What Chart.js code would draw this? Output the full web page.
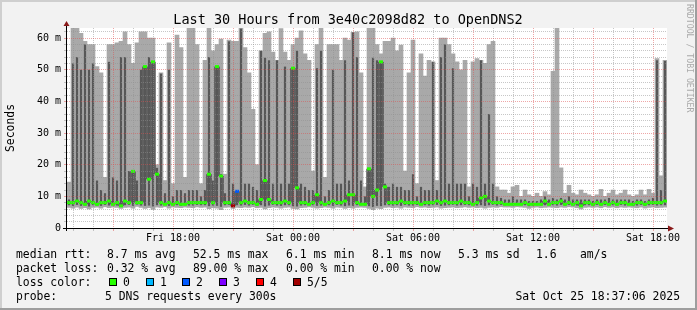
<!DOCTYPE html>
<html lang="en">
  <head>
    <meta charset="UTF-8" />
    <title>Last 30 Hours from 3e40c2098d82 to OpenDNS2</title>
    <script src="https://cdn.jsdelivr.net/npm/chart.js@4.4.0/dist/chart.umd.min.js"></script>
    <style>
      html, body { margin: 0; padding: 0; background: #f2f2f2; }
      #wrap { width: 697px; height: 310px; }
    </style>
  </head>
  <body>
    <div id="wrap"><canvas id="chart" width="697" height="310"></canvas></div>
    <script>
      // time axis, in hours from Fri 00:00
      const startHour = 12.7; // Fri 12:42, left edge of the plot
      const endHour = 42.7;   // Sat 18:42
      const stepHours = 0.2;  // one column = 12 minutes

      // smoke bands (ms): lowest ping, 2nd ping, 4th ping, highest ping, median
      const lo = [
        6.5, 6.3, 6.6, 6.2, 6.4, 6.0, 6.5, 6.6, 6.3, 6.7,
        6.4, 6.6, 6.5, 6.2, 6.5, 6.6, 6.3, 6.8, 6.5, 6.2,
        6.4, 5.9, 6.6, 6.5, 6.7, 6.3, 6.6, 6.5, 6.4, 6.6,
        6.5, 6.4, 6.7, 6.5, 6.6, 6.1, 6.4, 6.3, 5.8, 6.5,
        6.6, 6.2, 6.5, 6.4, 6.6, 6.5, 6.7, 6.4, 6.5, 6.0,
        6.4, 6.6, 6.5, 6.3, 6.5, 6.6, 6.2, 6.0, 6.4, 6.5,
        6.7, 6.5, 6.3, 6.4, 6.6, 6.5, 6.3, 6.6, 6.5, 6.2,
        6.4, 6.3, 6.5, 6.6, 6.5, 6.2, 5.8, 6.3, 6.1, 6.5,
        6.6, 6.4, 6.5, 6.3, 6.6, 6.5, 6.4, 6.7, 6.5, 6.6,
        6.4, 6.5, 6.6, 6.3, 6.4, 6.5, 6.6, 6.4, 6.5, 6.7,
        6.5, 6.6, 6.4, 6.5, 6.3, 6.5, 6.6, 6.5, 6.7, 6.6,
        6.6, 6.5, 6.7, 6.6, 6.5, 6.2, 6.5, 6.6, 6.4, 6.5,
        6.6, 6.5, 6.4, 6.6, 6.5, 6.7, 6.6, 6.4, 6.0, 6.5,
        6.6, 6.5, 6.6, 6.4, 6.7, 6.5, 6.6, 6.4, 6.6, 6.5,
        6.6, 6.5, 6.4, 6.6, 6.3, 6.5, 6.6, 6.4, 6.5, 6.6
      ];
      const q1 = [
        7.2, 7.0, 7.3, 7.0, 7.1, 6.8, 7.2, 7.1, 7.0, 7.3,
        7.1, 7.2, 7.1, 6.9, 7.2, 7.3, 7.0, 7.4, 7.1, 7.0,
        7.1, 6.8, 7.2, 7.1, 7.3, 7.0, 7.2, 7.2, 7.0, 7.2,
        7.1, 7.1, 7.3, 7.2, 7.2, 6.9, 7.1, 7.0, 6.7, 7.2,
        7.3, 6.9, 7.2, 7.1, 7.3, 7.1, 7.3, 7.0, 7.2, 6.8,
        7.1, 7.3, 7.1, 7.0, 7.2, 7.2, 6.9, 6.8, 7.1, 7.2,
        7.3, 7.2, 7.0, 7.1, 7.2, 7.2, 7.0, 7.3, 7.1, 6.9,
        7.1, 7.0, 7.2, 7.2, 7.1, 6.9, 6.6, 7.0, 6.9, 7.2,
        7.2, 7.1, 7.2, 7.0, 7.3, 7.1, 7.1, 7.3, 7.2, 7.2,
        7.1, 7.2, 7.3, 7.0, 7.1, 7.2, 7.3, 7.1, 7.2, 7.3,
        7.2, 7.2, 7.1, 7.2, 7.0, 7.2, 7.3, 7.1, 7.3, 7.2,
        7.2, 7.2, 7.3, 7.2, 7.2, 6.9, 7.1, 7.2, 7.1, 7.2,
        7.2, 7.2, 7.1, 7.3, 7.1, 7.3, 7.2, 7.1, 6.8, 7.2,
        7.2, 7.1, 7.3, 7.1, 7.3, 7.2, 7.2, 7.1, 7.3, 7.1,
        7.3, 7.1, 7.1, 7.3, 7.0, 7.2, 7.3, 7.1, 7.2, 7.2
      ];
      const dk = [
        9, 52, 54, 50, 58, 50, 52, 15, 12, 11,
        52.5, 16, 15, 54, 54, 18, 18, 15, 50, 50.6,
        54, 52.5, 19, 48.8, 11, 50, 10, 12, 12, 11,
        12, 12, 12, 10, 12, 54, 15, 51, 17, 11,
        59, 14, 12, 63, 14, 14, 13, 12, 56, 53.8,
        53, 14, 53, 14, 51, 14, 50.5, 56, 14, 13,
        12, 12, 50.5, 56, 10, 12, 50, 14, 14, 53,
        15, 61.8, 54, 15, 10, 19, 53.8, 53, 52.5, 14,
        13, 14, 13, 13, 12, 12, 17, 10, 13, 12,
        12, 52.5, 12, 54, 58, 14, 50.5, 14, 14, 14,
        10, 14, 13, 53, 14, 36, 14, 10, 9.5, 9,
        9, 10, 9, 9, 9, 8.5, 8.5, 8.5, 9, 10,
        9, 9.5, 9, 9.5, 9, 10, 9, 9, 9, 9,
        9, 8.5, 9, 9, 9, 9.5, 9, 9, 9, 9,
        9, 8.5, 9, 9, 8.5, 9, 9.5, 53, 12, 52.8
      ];
      const hi = [
        14.5, 64, 64, 61.5, 59, 58, 58, 51, 49, 16,
        58, 58, 58.5, 59, 62, 58, 52, 58.5, 62, 62,
        60, 60, 20, 49, 15, 58.5, 14, 61, 57, 16,
        64, 64, 58, 14, 53, 64, 56, 58, 59.7, 17,
        59.4, 59, 59, 64, 57, 49, 37.5, 20, 56, 61.5,
        62, 55.6, 53, 63, 55.6, 53, 58, 60, 62.3, 55,
        53, 18, 58, 64, 16, 58, 58, 58, 53, 60,
        59.4, 61.8, 62, 49, 13, 64, 64, 58, 55, 59,
        59, 60, 56, 57.8, 18, 49, 59.4, 14, 55, 48,
        53, 52.5, 15, 60, 60, 58, 55, 52.5, 50, 53,
        13, 52.5, 53.5, 53, 52, 58, 59, 13, 12, 12,
        11, 13, 13.5, 10, 12, 10.5, 10, 11, 10, 11.5,
        10.5, 49.5, 64, 19, 11, 13.5, 11, 10.5, 12, 11,
        10.5, 10, 10.5, 12.2, 10, 11, 12, 10.5, 11, 12,
        10.5, 10, 10.5, 12, 10.5, 12.2, 11, 53.5, 16.5, 53
      ];
      const med = [
        8, 8, 8.5, 8, 7.5, 8.5, 8, 7.5, 8, 8,
        8.5, 7.5, 8, 7, 8.5, 8, 17.9, 8, 8, 51,
        15.4, 52.5, 17, 8, 7.5, 8, 7.5, 8, 7.5, 7.5,
        8, 8, 8, 8, 8, 17, 8, 51, 16.4, 8,
        8, 7, 11.6, 8, 8.5, 8, 8, 7.5, 9, 15,
        9, 8, 8, 8, 8.5, 8, 50.5, 12.7, 8, 8,
        7.5, 8, 10.5, 8, 7.5, 8, 8.5, 8, 8, 8.5,
        10.5, 10.5, 8, 7.5, 7.5, 18.7, 10, 12, 52.5, 13,
        8, 8, 8, 8.5, 8, 8, 8, 8, 7.5, 8,
        8, 8, 8.5, 8, 8.5, 8, 8, 8, 8.5, 8,
        8, 7.5, 8, 9.5, 10, 8.5, 8, 8, 8, 7.5,
        7.5, 7.5, 7.5, 7.5, 8, 7.5, 7.5, 7.5, 7.5, 8.5,
        7.5, 8, 8, 8.5, 7.5, 8, 7.5, 8, 7, 8,
        8, 7.5, 8, 7.5, 8, 7.5, 8, 7.5, 8, 8,
        7.5, 7.5, 8, 8, 7.5, 8, 8, 8, 8, 8.5
      ];

      // columns with packet loss, and their loss class
      const lossCols = [41, 42];
      const lossLevels = [5, 2];
      const lossNames = ["0", "1", "2", "3", "4", "5/5"];
      const lossColors = ["#26ff00", "#00b8ff", "#0059ff", "#7e00ff", "#ff0000", "#a10000"];

      const xLabelHours = [18, 24, 30, 36, 42];
      const xLabelText = ["Fri 18:00", "Sat 00:00", "Sat 06:00", "Sat 12:00", "Sat 18:00"];
      const yLabelValues = [0, 10, 20, 30, 40, 50, 60];
      const yLabelText = ["0", "10 m", "20 m", "30 m", "40 m", "50 m", "60 m"];

      const titleText = "Last 30 Hours from 3e40c2098d82 to OpenDNS2";
      const rttText = ["median rtt:", "8.7 ms avg", "52.5 ms max", "6.1 ms min", "8.1 ms now", "5.3 ms sd", "1.6", "am/s"];
      const lossText = ["packet loss:", "0.32 % avg", "89.00 % max", "0.00 % min", "0.00 % now"];
      const legendCols = [16, 107, 193, 286, 372, 458, 536, 580];
      const probeText = "5 DNS requests every 300s";
      const dateText = "Sat Oct 25 18:37:06 2025";

      const MONO = '"DejaVu Sans Mono", monospace';
      const GRID = "rgba(143,143,143,0.5)";
      const MGRID = "rgba(222,80,80,0.5)";

      const hourOf = (i) => startHour + stepHours * (i + 0.5);
      const lightBand = lo.map((v, i) => ({ x: hourOf(i), y: [v, hi[i]] }));
      const darkBand = q1.map((v, i) => ({ x: hourOf(i), y: [v, dk[i]] }));
      const medPoints = med.map((v, i) => ({ x: hourOf(i), y: v }));

      function lossColor(i) {
        const k = lossCols.indexOf(i);
        return lossColors[k < 0 ? 0 : lossLevels[k]];
      }

      // rrdtool style frame, canvas, axes, arrows and texts
      const framePlugin = {
        id: "frame",
        beforeDraw(chart) {
          const { ctx, width, height, chartArea: ca } = chart;
          ctx.save();
          ctx.fillStyle = "#f2f2f2";
          ctx.fillRect(0, 0, width, height);
          ctx.fillStyle = "#cfcfcf";
          ctx.fillRect(0, 0, width, 2);
          ctx.fillRect(0, 0, 2, height);
          ctx.fillStyle = "#9e9e9e";
          ctx.fillRect(0, height - 2, width, 2);
          ctx.fillRect(width - 2, 0, 2, height);
          ctx.fillStyle = "#ffffff";
          ctx.fillRect(ca.left, ca.top, ca.width, ca.height);
          ctx.restore();
        },
        afterDraw(chart) {
          const { ctx, chartArea: ca } = chart;
          ctx.save();
          // axes
          ctx.strokeStyle = "#000";
          ctx.lineWidth = 1;
          ctx.beginPath();
          ctx.moveTo(ca.left - 0.5, ca.bottom + 3);
          ctx.lineTo(ca.left - 0.5, ca.top - 3);
          ctx.moveTo(ca.left - 4, ca.bottom + 0.5);
          ctx.lineTo(ca.right + 2, ca.bottom + 0.5);
          ctx.stroke();
          ctx.fillStyle = "#8a1a1a";
          ctx.beginPath();
          ctx.moveTo(ca.left - 0.5, ca.top - 7);
          ctx.lineTo(ca.left - 3.5, ca.top - 2);
          ctx.lineTo(ca.left + 2.5, ca.top - 2);
          ctx.closePath();
          ctx.fill();
          ctx.beginPath();
          ctx.moveTo(ca.right + 7, ca.bottom + 0.5);
          ctx.lineTo(ca.right + 1, ca.bottom - 2.5);
          ctx.lineTo(ca.right + 1, ca.bottom + 3.5);
          ctx.closePath();
          ctx.fill();

          // title
          ctx.fillStyle = "#000";
          ctx.font = "13.5px " + MONO;
          ctx.textAlign = "center";
          ctx.textBaseline = "alphabetic";
          ctx.fillText(titleText, 348, 23.5);

          // vertical axis title
          ctx.save();
          ctx.translate(11, (ca.top + ca.bottom) / 2);
          ctx.rotate(-Math.PI / 2);
          ctx.font = "11.4px " + MONO;
          ctx.textBaseline = "middle";
          ctx.fillText("Seconds", 0, 0);
          ctx.restore();

          // watermark
          ctx.save();
          ctx.translate(689, 4);
          ctx.rotate(Math.PI / 2);
          ctx.font = "8.2px " + MONO;
          ctx.fillStyle = "#aaaaaa";
          ctx.textAlign = "left";
          ctx.textBaseline = "middle";
          ctx.fillText("RRDTOOL / TOBI OETIKER", 0, 0);
          ctx.restore();

          // legend
          ctx.font = "11.4px " + MONO;
          ctx.textAlign = "left";
          ctx.fillStyle = "#000";
          rttText.forEach((s, k) => ctx.fillText(s, legendCols[k], 257.5));
          lossText.forEach((s, k) => ctx.fillText(s, legendCols[k], 271.5));
          ctx.fillText("loss color:", 16, 285.5);
          lossNames.forEach((name, k) => {
            const bx = Math.round(109 + 36.7 * k);
            ctx.fillStyle = lossColors[k];
            ctx.fillRect(bx, 278, 7, 8);
            ctx.strokeStyle = "#000";
            ctx.strokeRect(bx + 0.5, 278.5, 7, 7);
            ctx.fillStyle = "#000";
            ctx.fillText(name, bx + 14, 285.5);
          });
          ctx.fillText("probe:", 16, 299.5);
          ctx.fillText(probeText, 105, 299.5);
          ctx.textAlign = "right";
          ctx.fillText(dateText, 680, 299.5);
          ctx.restore();
        },
      };

      new Chart(document.getElementById("chart"), {
        type: "bar",
        data: {
          datasets: [
            {
              label: "green",
              type: "line",
              data: medPoints,
              showLine: false,
              pointStyle: "line",
              pointRadius: 2,
              pointBorderWidth: 3,
              pointBorderColor: (c) => lossColor(c.dataIndex),
              pointBackgroundColor: (c) => lossColor(c.dataIndex),
              order: 1,
            },
            {
              label: "median",
              type: "line",
              data: medPoints,
              stepped: "middle",
              borderColor: "#202020",
              borderWidth: 1,
              pointRadius: 0,
              order: 2,
            },
            {
              label: "dark smoke",
              data: darkBand,
              backgroundColor: "#575757",
              grouped: false,
              barPercentage: 0.55,
              categoryPercentage: 1,
              order: 3,
            },
            {
              label: "light smoke",
              data: lightBand,
              backgroundColor: "#a9a9a9",
              grouped: false,
              barPercentage: 1,
              categoryPercentage: 1,
              order: 4,
            },
          ],
        },
        options: {
          responsive: false,
          animation: false,
          devicePixelRatio: 1,
          events: [],
          layout: { padding: { left: 0, right: 30, top: 28, bottom: 60 } },
          plugins: { legend: { display: false }, tooltip: { enabled: false } },
          scales: {
            x: {
              type: "linear",
              min: startHour,
              max: endHour,
              offset: false,
              afterBuildTicks(scale) {
                const t = [];
                for (let h = Math.ceil(startHour); h <= endHour; h++) t.push({ value: h });
                scale.ticks = t;
              },
              afterFit(scale) { scale.height = 22; },
              grid: {
                offset: false,
                z: 1,
                color: (c) => (c.tick && c.tick.value % 3 === 0 ? MGRID : GRID),
                tickColor: (c) => (c.tick && c.tick.value % 3 === 0 ? MGRID : GRID),
                tickLength: 3,
                lineWidth: 1,
              },
              border: { display: false, dash: [1, 1] },
              ticks: {
                autoSkip: false,
                maxRotation: 0,
                padding: 1,
                color: "#000",
                font: { family: "DejaVu Sans Mono", size: 10 },
                callback: (v) => {
                  const k = xLabelHours.indexOf(v);
                  return k < 0 ? "" : xLabelText[k];
                },
              },
            },
            y: {
              min: 0,
              max: 63.2,
              afterBuildTicks(scale) {
                const t = [];
                for (let v = 0; v <= 62; v += 2) t.push({ value: v });
                scale.ticks = t;
              },
              afterFit(scale) { scale.width = 67; },
              grid: {
                z: 1,
                color: (c) => (c.tick && c.tick.value % 10 === 0 ? MGRID : GRID),
                tickColor: (c) => (c.tick && c.tick.value % 10 === 0 ? MGRID : GRID),
                tickLength: 3,
                lineWidth: 1,
              },
              border: { display: false, dash: [1, 1] },
              ticks: {
                autoSkip: false,
                padding: 3,
                color: "#000",
                font: { family: "DejaVu Sans Mono", size: 10 },
                callback: (v) => {
                  const k = yLabelValues.indexOf(v);
                  return k < 0 ? "" : yLabelText[k];
                },
              },
            },
          },
        },
        plugins: [framePlugin],
      });
    </script>
  </body>
</html>
